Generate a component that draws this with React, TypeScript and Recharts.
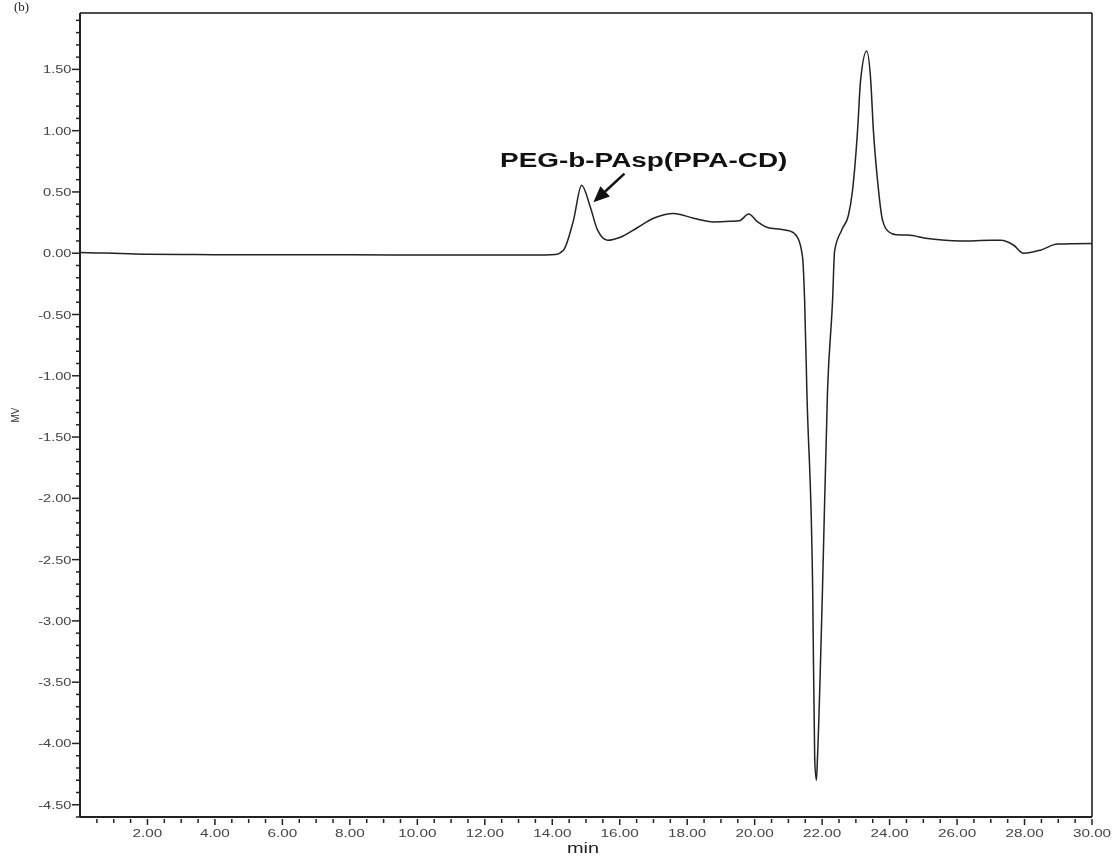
import { LineChart, Line, XAxis, YAxis, ReferenceLine, ReferenceDot } from 'recharts'

// retention time (min) and detector signal (MV)
const time = [
  0, 0.5, 1, 2, 3, 4, 6, 8, 10, 12, 13.5, 14.1, 14.33, 14.63, 14.87, 15.13, 15.34, 15.64, 16.02,
  16.53, 17.0, 17.6, 18.19, 18.78, 19.28, 19.55, 19.82, 20.09, 20.38, 20.77, 21.06, 21.27, 21.42,
  21.48, 21.55, 21.72, 21.78, 21.83, 21.86, 22.01, 22.16, 22.31, 22.37, 22.58, 22.78, 22.9, 23.05,
  23.14, 23.32, 23.44, 23.52, 23.64, 23.79, 23.97, 24.2, 24.53, 25.13, 26.1, 27.0, 27.29, 27.68,
  27.97, 28.47, 28.98, 30,
]
const signal = [
  0.005, 0.002, 0.0, -0.008, -0.01, -0.012, -0.012, -0.013, -0.015, -0.015, -0.015, -0.01, 0.024,
  0.27, 0.555, 0.375, 0.19, 0.105, 0.13, 0.21, 0.285, 0.325, 0.285, 0.255, 0.26, 0.265, 0.32, 0.255,
  0.21, 0.195, 0.18, 0.13, -0.033, -0.38, -1.15, -2.75, -4.13, -4.3, -4.13, -2.75, -1.12, -0.38,
  0.02, 0.19, 0.31, 0.51, 1.0, 1.41, 1.65, 1.41, 1.0, 0.6, 0.27, 0.175, 0.15, 0.148, 0.12, 0.1,
  0.105, 0.105, 0.065, 0.0, 0.025, 0.075, 0.08,
]

const xMajor = [2, 4, 6, 8, 10, 12, 14, 16, 18, 20, 22, 24, 26, 28, 30]
const yMajor = [1.5, 1.0, 0.5, 0.0, -0.5, -1.0, -1.5, -2.0, -2.5, -3.0, -3.5, -4.0, -4.5]
const peakLabel = 'PEG-b-PAsp(PPA-CD)'

const data = time.map((t, i) => ({ t, mv: signal[i] }))

// minor ticks: every 0.5 min on x, every 0.1 MV on y
const xTicks: number[] = []
for (let i = 1; i <= 60; i++) xTicks.push(i / 2)
const yTicks: number[] = []
for (let i = -46; i <= 19; i++) yTicks.push(Math.round(i) / 10)

const FONT = '"Liberation Sans", Arial, sans-serif'
const SX = 1.33 // the source figure is stretched horizontally

const isMajor = (list: number[], v: number) => list.some((m) => Math.abs(m - v) < 1e-6)

const YTick = (props: any) => {
  const { x, y, payload } = props
  const major = isMajor(yMajor, payload.value)
  return (
    <g>
      <line x1={major ? x : x + 4} x2={x + 8} y1={y} y2={y} stroke="#222" strokeWidth={1.5} />
      {major && (
        <text
          transform={`translate(${x - 0.5},${y + 4}) scale(${SX},1)`}
          textAnchor="end"
          fontSize={11}
          fontFamily={FONT}
          fill="#444"
        >
          {payload.value.toFixed(2)}
        </text>
      )}
    </g>
  )
}

const XTick = (props: any) => {
  const { x, y, payload } = props
  const major = isMajor(xMajor, payload.value)
  return (
    <g>
      <line x1={x} x2={x} y1={y} y2={y + (major ? 6 : 4)} stroke="#222" strokeWidth={1.5} />
      {major && (
        <text
          transform={`translate(${x},${y + 18}) scale(${SX},1)`}
          textAnchor="middle"
          fontSize={11.5}
          fontFamily={FONT}
          fill="#444"
        >
          {payload.value.toFixed(2)}
        </text>
      )}
    </g>
  )
}

const Arrow = (props: any) => {
  const { x1, y1, x2, y2 } = props
  const a = Math.atan2(y2 - y1, x2 - x1)
  const len = 16
  const w = 7
  const bx = x2 - len * Math.cos(a)
  const by = y2 - len * Math.sin(a)
  const px = -Math.sin(a) * w
  const py = Math.cos(a) * w
  return (
    <g>
      <line x1={x1} y1={y1} x2={bx} y2={by} stroke="#111" strokeWidth={2.5} />
      <polygon points={`${x2},${y2} ${bx + px},${by + py} ${bx - px},${by - py}`} fill="#111" />
    </g>
  )
}

export default function App() {
  return (
    <div style={{ position: 'fixed', left: 0, top: 0 }}>
      <LineChart
        width={1113}
        height={859}
        data={data}
        margin={{ top: 13, right: 21, left: 20, bottom: 2 }}
      >
        <XAxis
          dataKey="t"
          type="number"
          domain={[0, 30]}
          ticks={xTicks}
          interval={0}
          tickSize={2}
          tickMargin={0}
          tickLine={false}
          tick={<XTick />}
          height={40}
          axisLine={{ stroke: '#222', strokeWidth: 2 }}
          label={{
            content: () => (
              <text
                transform={`translate(583,853) scale(${SX},1)`}
                textAnchor="middle"
                fontSize={15}
                fontFamily={FONT}
                fill="#222"
              >
                min
              </text>
            ),
          }}
        />
        <YAxis
          type="number"
          domain={[-4.6, 1.96]}
          ticks={yTicks}
          interval={0}
          tickSize={8}
          tickMargin={0}
          tickLine={false}
          tick={<YTick />}
          width={60}
          axisLine={{ stroke: '#222', strokeWidth: 2 }}
          label={{
            content: () => (
              <g>
                <text
                  transform="translate(19,415) rotate(-90)"
                  textAnchor="middle"
                  fontSize={10}
                  fontFamily={FONT}
                  fill="#333"
                >
                  MV
                </text>
                <text x={14} y={11} fontSize={13} fontFamily='"Liberation Serif", serif' fill="#222">
                  (b)
                </text>
              </g>
            ),
          }}
        />
        <ReferenceLine y={1.96} stroke="#111" strokeWidth={1.5} />
        <ReferenceLine x={30} stroke="#111" strokeWidth={1.5} />
        <ReferenceLine
          segment={[
            { x: 16.14, y: 0.65 },
            { x: 15.22, y: 0.415 },
          ]}
          shape={<Arrow />}
        />
        <ReferenceDot
          x={16.71}
          y={0.7}
          r={0}
          shape={(p: any) => (
            <text
              transform={`translate(${p.cx},${p.cy}) scale(${SX},1)`}
              textAnchor="middle"
              fontSize={21}
              fontWeight="bold"
              fontFamily={FONT}
              fill="#111"
            >
              {peakLabel}
            </text>
          )}
        />
        <Line
          type="monotone"
          dataKey="mv"
          stroke="#222"
          strokeWidth={1.5}
          dot={false}
          isAnimationActive={false}
        />
      </LineChart>
    </div>
  )
}
